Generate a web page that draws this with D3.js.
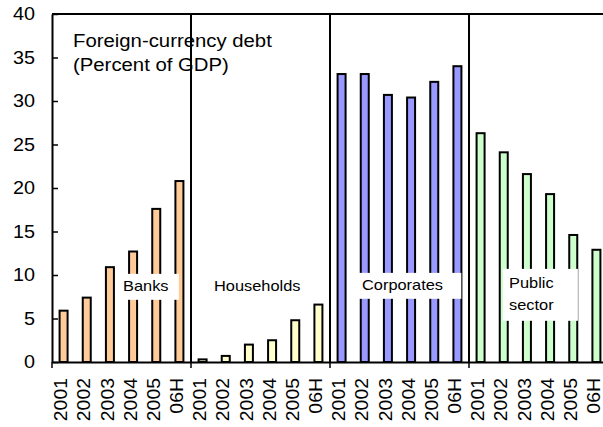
<!DOCTYPE html>
<html>
<head>
<meta charset="utf-8">
<script src="https://cdn.jsdelivr.net/npm/d3@7"></script>
<style>
  body { margin: 0; background: #fff; }
  svg { display: block; font-family: "Liberation Sans", Arial, sans-serif; }
</style>
</head>
<body>
<div id="chart"></div>
<script>
const WIDTH = 603, HEIGHT = 427;
const LEFT = 52, RIGHT = 608, TOP = 14, BOTTOM = 362;
const SX = 1.13; // the original text is a bit wide

const years = ["2001", "2002", "2003", "2004", "2005", "06H"];
const groups = ["Banks", "Households", "Corporates", "Public sector"];
const banks = [5.9, 7.4, 10.9, 12.7, 17.6, 20.8];
const households = [0.3, 0.7, 2.0, 2.5, 4.8, 6.6];
const corporates = [33.1, 33.1, 30.7, 30.4, 32.2, 34.0];
const publicSector = [26.3, 24.1, 21.6, 19.3, 14.6, 12.9];
const yTicks = [0, 5, 10, 15, 20, 25, 30, 35, 40];
const colors = ["#ffcc99", "#ffffcc", "#9999ff", "#ccffcc"];

var series = [banks, households, corporates, publicSector];
var data = [];
groups.forEach(function (g, gi) {
    years.forEach(function (yr, i) {
        data.push({ key: g + "|" + yr, group: gi, year: yr, value: series[gi][i] });
    });
});

var svg = d3.select("#chart").append("svg")
    .attr("width", WIDTH)
    .attr("height", HEIGHT);

var x = d3.scaleBand()
    .domain(data.map(function (d) { return d.key; }))
    .range([LEFT, RIGHT]);

var y = d3.scaleLinear()
    .domain([0, 40])
    .range([BOTTOM, TOP]);

var stretched = function (sel, px, py, size, str) {
    return sel.append("text")
        .attr("transform", "translate(" + px + "," + py + ") scale(" + SX + ",1)")
        .attr("font-size", size)
        .attr("fill", "#000")
        .text(str);
};

// title
stretched(svg, 73, 47, 18, "Foreign-currency debt");
stretched(svg, 73, 71, 18, "(Percent of GDP)");

// bars
var barW = 8;
svg.selectAll("rect.bar")
    .data(data)
    .enter()
    .append("rect")
    .attr("class", "bar")
    .attr("x", function (d) { return x(d.key) + (x.bandwidth() - barW) / 2; })
    .attr("y", function (d) { return y(d.value); })
    .attr("width", barW)
    .attr("height", function (d) { return y(0) - y(d.value); })
    .attr("fill", function (d) { return colors[d.group]; })
    .attr("stroke", "#000")
    .attr("stroke-width", 2);

// group labels
var labelAt = [
    { lines: ["Banks"], x: 123, y: 291, box: true },
    { lines: ["Households"], x: 214, y: 291, box: false },
    { lines: ["Corporates"], x: 362, y: 290, box: true },
    { lines: ["Public", "sector"], x: 509, y: 288, box: true }
];
labelAt.forEach(function (l, i) {
    var g = svg.append("g");
    var rect = g.append("rect").attr("fill", "#fff");
    l.lines.forEach(function (s, j) {
        stretched(g, l.x, l.y + j * 22, 14.5, groups[i] === "Public sector" ? s : groups[i]);
    });
    if (l.box) {
        var b = g.node().getBBox();
        var pl = 4, pr = 10, pt = 4, pb = 6;
        if (i === 2) { pl = 3; pr = 18; }
        if (i === 3) { pl = 6; pr = 24; pt = 6; pb = 8; }
        rect.attr("x", b.x - pl).attr("y", b.y - pt)
            .attr("width", b.width + pl + pr).attr("height", b.height + pt + pb);
    }
});

// group separators
var step = x.step() * years.length;
var seps = d3.range(1, groups.length).map(function (i) { return LEFT + i * step; });
svg.selectAll("line.sep")
    .data(seps)
    .enter()
    .append("line")
    .attr("class", "sep")
    .attr("x1", function (d) { return d; })
    .attr("x2", function (d) { return d; })
    .attr("y1", TOP)
    .attr("y2", BOTTOM)
    .attr("stroke", "#000")
    .attr("stroke-width", 2);

// boundary ticks below the axis
svg.selectAll("line.gtick")
    .data([LEFT].concat(seps))
    .enter()
    .append("line")
    .attr("x1", function (d) { return d; })
    .attr("x2", function (d) { return d; })
    .attr("y1", BOTTOM)
    .attr("y2", BOTTOM + 6)
    .attr("stroke", "#000")
    .attr("stroke-width", 1.5);

// top frame line
svg.append("line")
    .attr("x1", LEFT).attr("x2", RIGHT)
    .attr("y1", TOP).attr("y2", TOP)
    .attr("stroke", "#000")
    .attr("stroke-width", 2);

// axes
var yAxis = d3.axisLeft(y)
    .tickValues(yTicks)
    .tickSizeInner(-6)
    .tickSizeOuter(0)
    .tickPadding(17);

var gy = svg.append("g")
    .attr("transform", "translate(" + LEFT + ",0)")
    .call(yAxis);
gy.select(".domain").attr("stroke-width", 2);
gy.selectAll(".tick line").attr("stroke-width", 1.5);
gy.selectAll(".tick text")
    .attr("font-size", 18)
    .attr("font-family", null)
    .attr("fill", "#000")
    .attr("x", 0)
    .attr("transform", "translate(-17,0) scale(1.1,1)");

var xAxis = d3.axisBottom(x)
    .tickSize(0)
    .tickPadding(0)
    .tickFormat(function (d) { return d.split("|")[1]; });

var gx = svg.append("g")
    .attr("transform", "translate(0," + BOTTOM + ")")
    .call(xAxis);
gx.select(".domain").attr("stroke-width", 2);
gx.selectAll(".tick text")
    .attr("font-size", 18)
    .attr("font-family", null)
    .attr("fill", "#000")
    .attr("text-anchor", "end")
    .attr("x", 0)
    .attr("y", 0)
    .attr("dy", "0.2em")
    .attr("transform", "rotate(-90) translate(-16,0) scale(1.08,1)");
</script>
</body>
</html>
